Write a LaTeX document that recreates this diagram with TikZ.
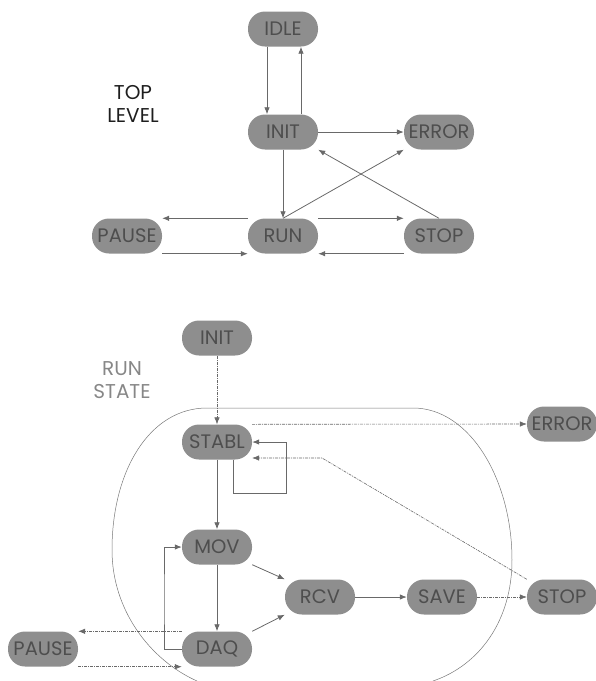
\documentclass[tikz,border=0pt]{standalone}
\usepackage{fontspec}
\setmainfont{Poppins}
\usetikzlibrary{arrows.meta}
\definecolor{statefill}{RGB}{142,142,142}
\definecolor{statetext}{RGB}{78,78,78}
\definecolor{wire}{RGB}{105,105,105}
\definecolor{outline}{RGB}{120,120,120}
\definecolor{caption}{RGB}{30,30,30}
\definecolor{softcap}{RGB}{135,135,135}

\begin{document}
\begin{tikzpicture}[x=1pt, y=1pt,
  state/.style={rectangle, rounded corners=17pt, fill=statefill, text=statetext,
    minimum width=70pt, minimum height=35pt, inner sep=0pt, font=\fontsize{19.5}{19.5}\selectfont},
  solid link/.style={draw=wire, line width=0.8pt, -{Latex[length=7pt,width=5.5pt]}},
  dd link/.style={draw=wire, line width=0.6pt, dash pattern=on 3pt off 1pt on 1pt off 1pt,
    -{Latex[length=7pt,width=5.5pt]}},
  title/.style={align=center, font=\fontsize{20}{23}\selectfont}]
\useasboundingbox (0,-681) rectangle (596,0);
% top level
\node[state] (idle) at (283,-29) {IDLE};
\node[state] (init) at (283,-132) {INIT};
\node[state] (error) at (439,-132) {ERROR};
\node[state] (pause) at (127,-236) {PAUSE};
\node[state] (run) at (283,-236) {RUN};
\node[state] (stop) at (439,-236) {STOP};
\node[title, text=caption] (toplbl) at (133,-104) {TOP\\LEVEL};
\draw[solid link] ([xshift=-16pt]idle.south) -- ([xshift=-16pt]init.north);
\draw[solid link] ([xshift=18pt]init.north) -- ([xshift=18pt]idle.south);
\draw[solid link] (init.east) -- (error.west);
\draw[solid link] (init.south) -- (run.north);
\draw[solid link] (run.north) -- (error.south west);
\draw[solid link] (stop.north) -- (init.south east);
\draw[solid link] (run.north west) -- (pause.north east);
\draw[solid link] (pause.south east) -- (run.south west);
\draw[solid link] (run.north east) -- (stop.north west);
\draw[solid link] (stop.south west) -- (run.south east);
% run state
\draw[outline, line width=0.5pt] (197,-681) .. controls (150,-660) and (112,-610) .. (112,-550)
  .. controls (112,-470) and (150,-408) .. (207,-408) -- (413,-408)
  .. controls (470,-408) and (512,-480) .. (512,-560)
  .. controls (512,-620) and (480,-665) .. (433,-681);
\node[state] (init2) at (217,-338) {INIT};
\node[state] (stabl) at (217,-442) {STABL};
\node[state] (error2) at (562,-424) {ERROR};
\node[state] (mov) at (217,-547) {MOV};
\node[state] (daq) at (217,-649) {DAQ};
\node[state] (pause2) at (43,-649) {PAUSE};
\node[state] (rcv) at (320,-597) {RCV};
\node[state] (save) at (442,-597) {SAVE};
\node[state] (stop2) at (562,-597) {STOP};
\node[title, text=softcap] (runlbl) at (122,-380) {RUN\\STATE};
\coordinate (loopc) at (286,-493);
\coordinate (bend) at (322,-458);
\coordinate (loopm) at (164,-600);
\draw[dd link] (init2.south) -- (stabl.north);
\draw[dd link] (stabl.north east) -- (error2.west);
\draw[solid link] ([xshift=16pt]stabl.south) |- (loopc) |- (stabl.east);
\draw[dd link] (stop2.north west) -- (bend) -- ([yshift=-16pt]stabl.east);
\draw[solid link] (stabl.south) -- (mov.north);
\draw[solid link] (mov.south) -- (daq.north);
\draw[solid link] (daq.west) -| (loopm) |- (mov.west);
\draw[solid link] (mov.south east) -- (rcv.north west);
\draw[solid link] (daq.north east) -- (rcv.south west);
\draw[solid link] (rcv.east) -- (save.west);
\draw[dd link] (save.east) -- (stop2.west);
\draw[dd link] (daq.north west) -- (pause2.north east);
\draw[dd link] (pause2.south east) -- (daq.south west);
\end{tikzpicture}
\end{document}
